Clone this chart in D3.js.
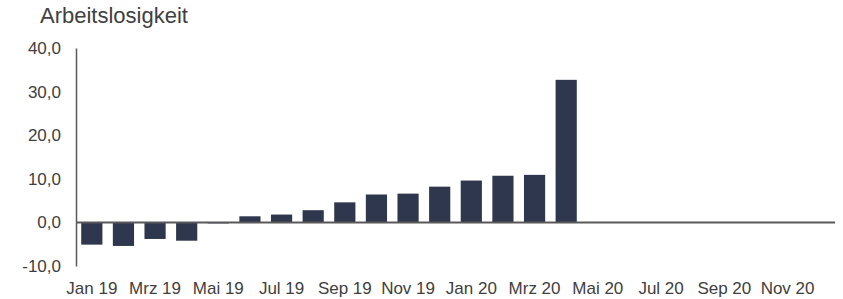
<!DOCTYPE html>
<html>
<head>
<meta charset="utf-8">
<script src="https://cdn.jsdelivr.net/npm/d3@7"></script>
<style>
  body { margin: 0; background: #fff; }
  text { font-family: "Liberation Sans", Arial, sans-serif; fill: #404040; }
</style>
</head>
<body>
<svg id="chart"></svg>
<script>
// months Jan 19 .. Dez 20
const months = ["Jan 19", "Feb 19", "Mrz 19", "Apr 19", "Mai 19", "Jun 19",
    "Jul 19", "Aug 19", "Sep 19", "Okt 19", "Nov 19", "Dez 19",
    "Jan 20", "Feb 20", "Mrz 20", "Apr 20", "Mai 20", "Jun 20",
    "Jul 20", "Aug 20", "Sep 20", "Okt 20", "Nov 20", "Dez 20"];

// change in %, only reported until Apr 20
const values = [-5.1, -5.4, -3.8, -4.2, -0.2, 1.4, 1.8, 2.8, 4.6, 6.4, 6.6, 8.2,
    9.6, 10.7, 10.9, 32.7, null, null, null, null, null, null, null, null];

const yTicks = [-10, 0, 10, 20, 30, 40];
const title = "Arbeitslosigkeit";

const width = 843, height = 299;
const margin = {left: 76, right: 8, top: 48, bottom: 33};

const svg = d3.select("#chart")
    .attr("width", width)
    .attr("height", height);

const x = d3.scaleBand()
    .domain(months)
    .range([margin.left, width - margin.right])
    .paddingInner(0.33)
    .paddingOuter(0.165);

const y = d3.scaleLinear()
    .domain([-10, 40])
    .range([height - margin.bottom, margin.top]);

// german decimal comma, plain hyphen for negatives
const fmt = v => d3.format(".1f")(v).replace(".", ",").replace("\u2212", "-");

// title
svg.append("text")
    .attr("x", 40)
    .attr("y", 23)
    .attr("font-size", 22)
    .text(title);

// bars
const data = months.map((m, i) => ({month: m, value: values[i]}))
    .filter(d => d.value !== null);

svg.append("g")
    .selectAll("rect")
    .data(data)
    .enter()
    .append("rect")
    .attr("x", d => x(d.month))
    .attr("y", d => y(Math.max(0, d.value)))
    .attr("width", x.bandwidth())
    .attr("height", d => Math.max(1, Math.abs(y(d.value) - y(0))))
    .attr("fill", "#2f374e");

// y axis
const yAxis = svg.append("g")
    .attr("transform", `translate(${margin.left},0)`)
    .call(d3.axisLeft(y).tickValues(yTicks).tickFormat(fmt).tickSize(0).tickPadding(15));
yAxis.select(".domain").attr("stroke", "#595959").attr("stroke-width", 1.5);
yAxis.selectAll("text")
    .attr("font-size", 17)
    .attr("font-family", "Liberation Sans, Arial, sans-serif")
    .attr("fill", "#404040");

// zero line
svg.append("line")
    .attr("x1", margin.left)
    .attr("x2", width - margin.right)
    .attr("y1", y(0))
    .attr("y2", y(0))
    .attr("stroke", "#595959")
    .attr("stroke-width", 2);

// x labels, every other month, below the plot
const xAxis = svg.append("g")
    .attr("transform", `translate(0,${height - margin.bottom})`)
    .call(d3.axisBottom(x)
        .tickValues(months.filter((m, i) => i % 2 === 0))
        .tickSize(0)
        .tickPadding(16));
xAxis.select(".domain").remove();
xAxis.selectAll("text")
    .attr("font-size", 17)
    .attr("font-family", "Liberation Sans, Arial, sans-serif")
    .attr("fill", "#404040");
</script>
</body>
</html>
